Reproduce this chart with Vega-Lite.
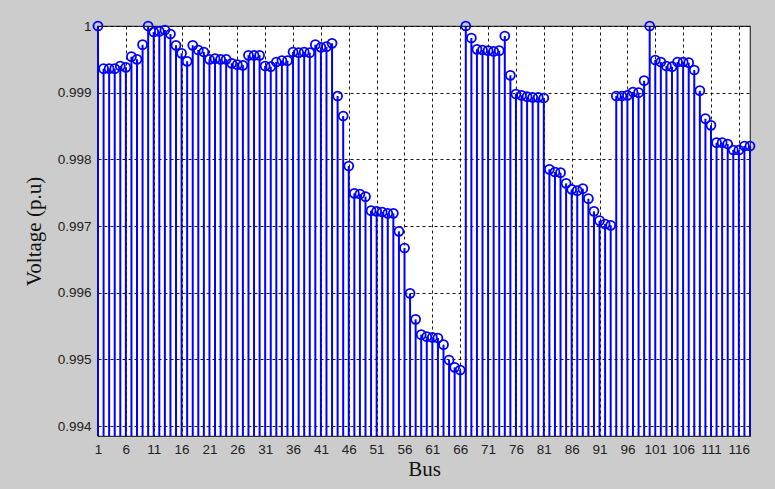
{
  "$schema": "https://vega.github.io/schema/vega-lite/v6.json",
  "width": 652,
  "height": 410,
  "autosize": "none",
  "padding": {"left": 98, "top": 26, "right": 25, "bottom": 53},
  "background": "#cccccc",
  "config": {
    "view": {"fill": "#ffffff", "stroke": "#333333", "strokeWidth": 1.2},
    "axis": {
      "labelFont": "Liberation Sans",
      "labelFontSize": 13.5,
      "labelColor": "#222222",
      "titleFont": "Liberation Serif",
      "titleFontSize": 21,
      "titleFontWeight": "normal",
      "titleColor": "#111111",
      "domain": false,
      "ticks": false,
      "grid": true,
      "gridColor": "#000000",
      "gridDash": [3, 3],
      "gridWidth": 1,
      "gridOpacity": 0.9
    }
  },
  "data": {
    "values": [
      {"bus": 1, "v": 1.0},
      {"bus": 2, "v": 0.99936},
      {"bus": 3, "v": 0.99936},
      {"bus": 4, "v": 0.99936},
      {"bus": 5, "v": 0.9994},
      {"bus": 6, "v": 0.99938},
      {"bus": 7, "v": 0.99954},
      {"bus": 8, "v": 0.9995},
      {"bus": 9, "v": 0.99972},
      {"bus": 10, "v": 1.0},
      {"bus": 11, "v": 0.99991},
      {"bus": 12, "v": 0.99992},
      {"bus": 13, "v": 0.99994},
      {"bus": 14, "v": 0.99988},
      {"bus": 15, "v": 0.99971},
      {"bus": 16, "v": 0.99959},
      {"bus": 17, "v": 0.99947},
      {"bus": 18, "v": 0.99971},
      {"bus": 19, "v": 0.99964},
      {"bus": 20, "v": 0.99961},
      {"bus": 21, "v": 0.9995},
      {"bus": 22, "v": 0.99951},
      {"bus": 23, "v": 0.9995},
      {"bus": 24, "v": 0.9995},
      {"bus": 25, "v": 0.99944},
      {"bus": 26, "v": 0.99942},
      {"bus": 27, "v": 0.99941},
      {"bus": 28, "v": 0.99956},
      {"bus": 29, "v": 0.99956},
      {"bus": 30, "v": 0.99956},
      {"bus": 31, "v": 0.9994},
      {"bus": 32, "v": 0.99939},
      {"bus": 33, "v": 0.99946},
      {"bus": 34, "v": 0.99948},
      {"bus": 35, "v": 0.99948},
      {"bus": 36, "v": 0.99961},
      {"bus": 37, "v": 0.9996},
      {"bus": 38, "v": 0.99961},
      {"bus": 39, "v": 0.9996},
      {"bus": 40, "v": 0.99972},
      {"bus": 41, "v": 0.99968},
      {"bus": 42, "v": 0.99969},
      {"bus": 43, "v": 0.99974},
      {"bus": 44, "v": 0.99895},
      {"bus": 45, "v": 0.99865},
      {"bus": 46, "v": 0.9979},
      {"bus": 47, "v": 0.99749},
      {"bus": 48, "v": 0.99748},
      {"bus": 49, "v": 0.99744},
      {"bus": 50, "v": 0.99723},
      {"bus": 51, "v": 0.99722},
      {"bus": 52, "v": 0.99721},
      {"bus": 53, "v": 0.99719},
      {"bus": 54, "v": 0.99719},
      {"bus": 55, "v": 0.99692},
      {"bus": 56, "v": 0.99667},
      {"bus": 57, "v": 0.99599},
      {"bus": 58, "v": 0.9956},
      {"bus": 59, "v": 0.99537},
      {"bus": 60, "v": 0.99534},
      {"bus": 61, "v": 0.99533},
      {"bus": 62, "v": 0.99532},
      {"bus": 63, "v": 0.99522},
      {"bus": 64, "v": 0.99499},
      {"bus": 65, "v": 0.99488},
      {"bus": 66, "v": 0.99484},
      {"bus": 67, "v": 1.0},
      {"bus": 68, "v": 0.99982},
      {"bus": 69, "v": 0.99965},
      {"bus": 70, "v": 0.99964},
      {"bus": 71, "v": 0.99963},
      {"bus": 72, "v": 0.99962},
      {"bus": 73, "v": 0.99963},
      {"bus": 74, "v": 0.99985},
      {"bus": 75, "v": 0.99926},
      {"bus": 76, "v": 0.99898},
      {"bus": 77, "v": 0.99896},
      {"bus": 78, "v": 0.99894},
      {"bus": 79, "v": 0.99893},
      {"bus": 80, "v": 0.99893},
      {"bus": 81, "v": 0.99892},
      {"bus": 82, "v": 0.99785},
      {"bus": 83, "v": 0.99781},
      {"bus": 84, "v": 0.9978},
      {"bus": 85, "v": 0.99764},
      {"bus": 86, "v": 0.99755},
      {"bus": 87, "v": 0.99753},
      {"bus": 88, "v": 0.99756},
      {"bus": 89, "v": 0.99741},
      {"bus": 90, "v": 0.99722},
      {"bus": 91, "v": 0.99708},
      {"bus": 92, "v": 0.99703},
      {"bus": 93, "v": 0.99701},
      {"bus": 94, "v": 0.99895},
      {"bus": 95, "v": 0.99895},
      {"bus": 96, "v": 0.99896},
      {"bus": 97, "v": 0.99901},
      {"bus": 98, "v": 0.999},
      {"bus": 99, "v": 0.99918},
      {"bus": 100, "v": 1.0},
      {"bus": 101, "v": 0.99949},
      {"bus": 102, "v": 0.99946},
      {"bus": 103, "v": 0.9994},
      {"bus": 104, "v": 0.99939},
      {"bus": 105, "v": 0.99946},
      {"bus": 106, "v": 0.99946},
      {"bus": 107, "v": 0.99945},
      {"bus": 108, "v": 0.99934},
      {"bus": 109, "v": 0.99903},
      {"bus": 110, "v": 0.99861},
      {"bus": 111, "v": 0.99851},
      {"bus": 112, "v": 0.99825},
      {"bus": 113, "v": 0.99825},
      {"bus": 114, "v": 0.99823},
      {"bus": 115, "v": 0.99814},
      {"bus": 116, "v": 0.99814},
      {"bus": 117, "v": 0.9982},
      {"bus": 118, "v": 0.9982}
    ]
  },
  "encoding": {
    "x": {
      "field": "bus",
      "type": "quantitative",
      "title": "Bus",
      "scale": {"domain": [1, 118], "nice": false, "zero": false},
      "axis": {
        "values": [1, 6, 11, 16, 21, 26, 31, 36, 41, 46, 51, 56, 61, 66, 71, 76, 81, 86, 91, 96, 101, 106, 111, 116],
        "labelPadding": 6,
        "titlePadding": 3,
        "labelFlush": false
      }
    },
    "y": {
      "field": "v",
      "type": "quantitative",
      "title": "Voltage (p.u)",
      "scale": {"domain": [0.99385, 1.0], "nice": false, "zero": false},
      "axis": {
        "values": [0.994, 0.995, 0.996, 0.997, 0.998, 0.999, 1.0],
        "labelExpr": "datum.value >= 0.99999 ? '1' : format(datum.value, '.3f')",
        "labelPadding": 7,
        "titlePadding": 13,
        "labelFlush": false
      }
    }
  },
  "layer": [
    {
      "mark": {"type": "rule", "color": "#0000ff", "strokeWidth": 2, "clip": false},
      "encoding": {"y2": {"datum": 0.99385}}
    },
    {
      "mark": {"type": "point", "shape": "circle", "filled": false, "stroke": "#0000ff", "strokeWidth": 1.8, "size": 80, "opacity": 1, "clip": false}
    }
  ]
}
